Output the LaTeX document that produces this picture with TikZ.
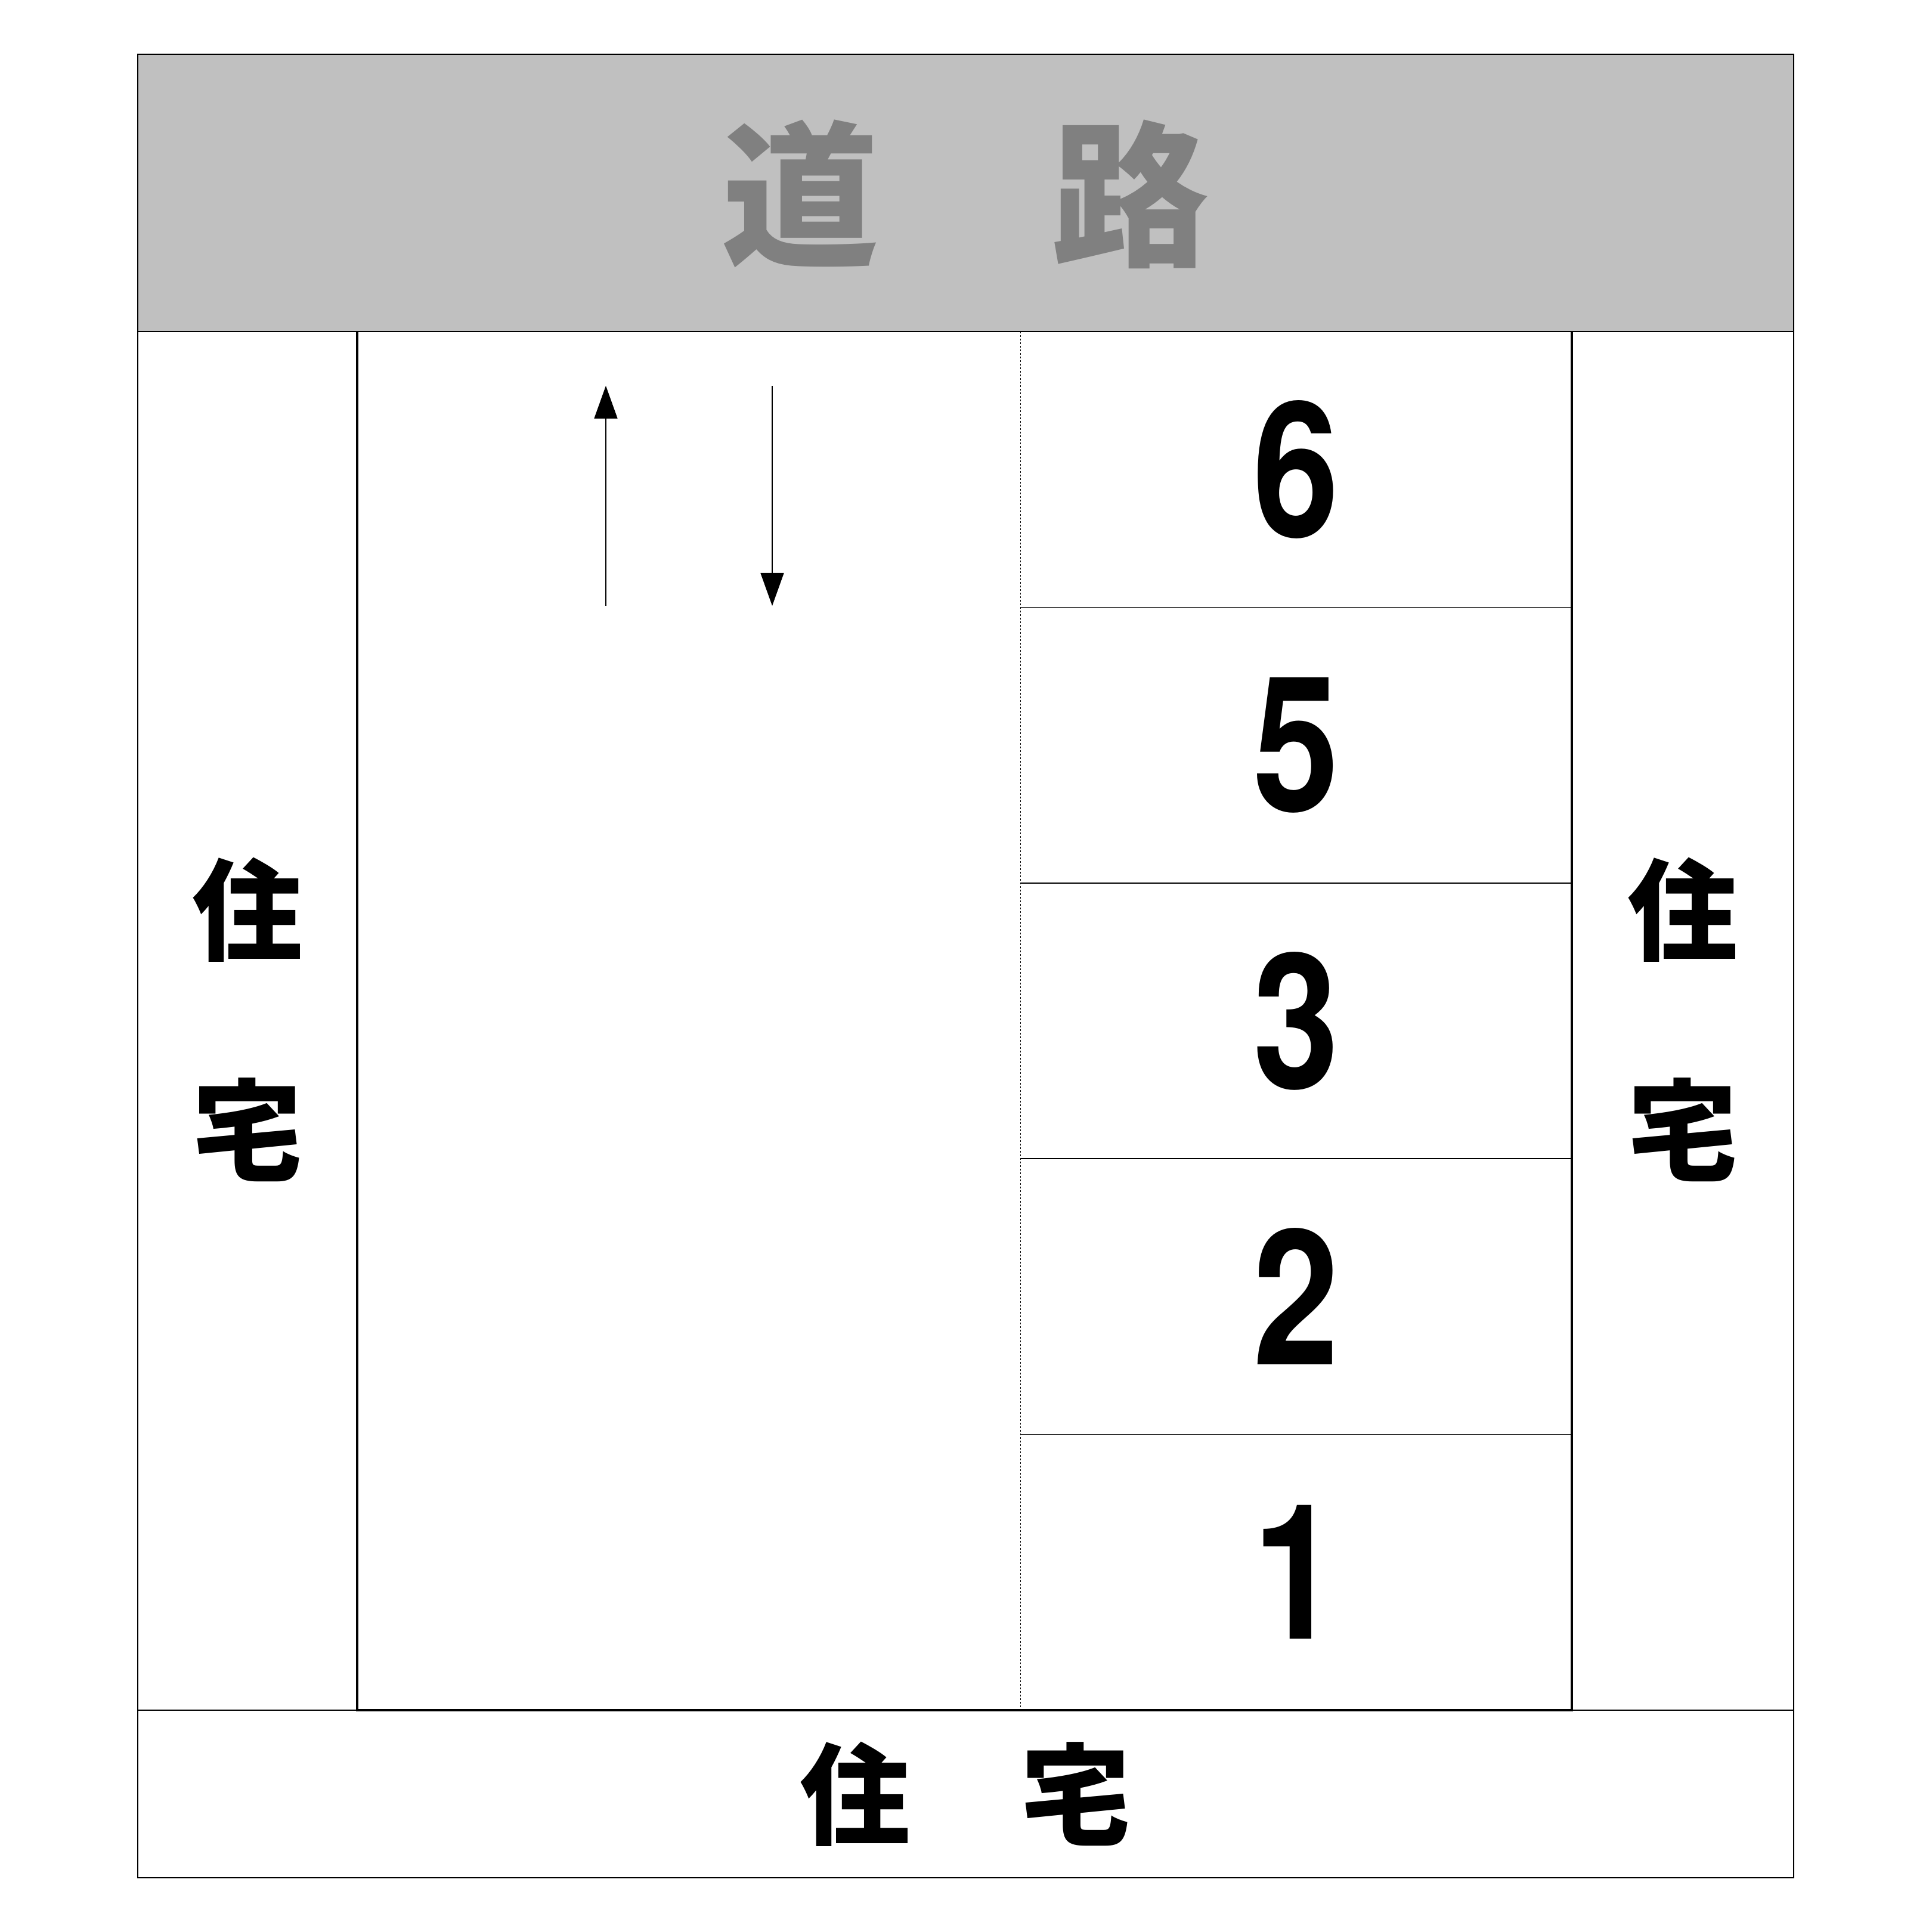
\documentclass[tikz,border=0pt]{standalone}
\usepackage{fontspec}
\setmainfont{Liberation Sans}
\newfontfamily\cjk{Noto Sans CJK JP}
\newfontfamily\digits{TeX Gyre Heros}
\usepackage{tikz}
\usetikzlibrary{positioning,arrows.meta}

\definecolor{roadfill}{HTML}{C0C0C0}
\definecolor{roadtext}{HTML}{808080}

\begin{document}
\begin{tikzpicture}[
    frame/.style={line width=0.45pt},
    lot/.style={line width=1.3pt},
    divider/.style={line width=0.45pt},
    split/.style={line width=0.3pt, dash pattern=on 0.03cm off 0.03cm},
    flow/.style={line width=0.45pt, -{Triangle[length=0.55cm, width=0.39cm]}},
    house/.style={font=\cjk\bfseries\fontsize{52.6}{105}\selectfont, align=center},
    road/.style={font=\cjk\bfseries\fontsize{75}{75}\selectfont, text=roadtext},
    lotno/.style={font=\digits\bfseries\fontsize{90}{90}\selectfont}
]

    \useasboundingbox (0,0) rectangle (32.4,32.4);

    \fill[roadfill] (2.31,26.84) rectangle (30.08,31.49);
    \draw[frame] (2.31,0.91) rectangle (30.08,31.49);
    \draw[frame] (2.31,26.84) -- (30.08,26.84);
    \draw[frame] (2.31,3.72) -- (30.08,3.72);

    \draw[lot] (5.99,26.84) -- (5.99,3.72) -- (26.36,3.72) -- (26.36,26.84);
    \draw[split] (17.11,26.84) -- (17.11,3.72);

    \foreach \i in {1,...,4}
        \draw[divider] (17.11,3.72+\i*4.624) -- (26.36,3.72+\i*4.624);

    \foreach \n [count=\i] in {1,2,3,5,6}
        \node[lotno] (lot\n) at (21.735,3.72+\i*4.624-2.312) {\scalebox{0.82}[1]{\n}};

    \node[road] (road) at (16.19,29.14) {道　\hspace{0.26cm}路};
    \node[house] (westhouse) at (4.15,15.30) {住\\宅};
    \node[house] (easthouse) at (28.22,15.30) {住\\宅};
    \node[house] (southhouse) at (16.19,2.31) {住　宅};

    \coordinate (upfrom) at (10.16,22.24);
    \coordinate (upto) at (10.16,25.93);
    \coordinate (downfrom) at (12.95,25.93);
    \coordinate (downto) at (12.95,22.24);

    \draw[flow] (upfrom) -- (upto);
    \draw[flow] (downfrom) -- (downto);

\end{tikzpicture}
\end{document}
